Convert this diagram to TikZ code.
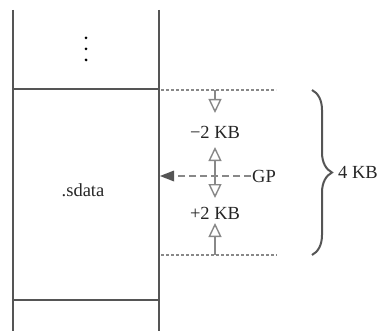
\documentclass[tikz,border=0pt]{standalone}
\usepackage{fontspec}
\setmainfont{Liberation Serif}
\usetikzlibrary{arrows.meta,decorations.pathreplacing}
\definecolor{ln}{HTML}{555555}
\definecolor{dl}{HTML}{888888}
\begin{document}
\begin{tikzpicture}[x=1pt,y=-1pt,
  wall/.style={draw=ln,line width=2.4pt},
  dotline/.style={draw=dl,line width=1.1pt,dash pattern=on 3pt off 2pt},
  gpline/.style={draw=dl,line width=1.6pt,dash pattern=on 7pt off 4pt},
  openarr/.style={draw=dl,line width=1.4pt,-{Triangle[open,length=14pt,width=13pt]}},
  lbl/.style={font=\fontsize{18.5}{20}\selectfont,inner sep=1pt,text=black!85}]
\useasboundingbox (0,0) rectangle (390,331);
% walls
\draw[wall] (13,10) -- (13,331);
\draw[wall] (159,10) -- (159,331);
\draw[wall] (13,89) -- (159,89);
\draw[wall] (13,300) -- (159,300);
% dots
\foreach \yy in {38,49,60} \fill (86,\yy) circle (1.5pt);
\node[lbl] (sd) at (83,190) {.sdata};
% dotted boundaries
\coordinate (t0) at (161,90);
\coordinate (t1) at (276,90);
\coordinate (b0) at (161,255);
\coordinate (b1) at (277,255);
\draw[dotline] (t0) -- (t1);
\draw[dotline] (b0) -- (b1);
% GP
\node[lbl,anchor=west] (gp) at (251,176) {GP};
\draw[gpline] (gp.west) -- (172,176);
\fill[ln] (160,176) -- (174,170.5) -- (174,181.5) -- cycle;
% labels
\node[lbl] (m2) at (215,132) {−2 KB};
\node[lbl] (p2) at (215,213) {+2 KB};
% vertical arrows
\coordinate (a1) at (215,90);
\coordinate (a1t) at (215,113);
\draw[openarr] (a1) -- (a1t);
\coordinate (a2) at (215,176);
\coordinate (a2t) at (215,147);
\draw[openarr] (a2) -- (a2t);
\coordinate (a3t) at (215,198);
\draw[openarr] (a2) -- (a3t);
\coordinate (a4) at (215,255);
\coordinate (a4t) at (215,223);
\draw[openarr] (a4) -- (a4t);
% brace
\coordinate (br0) at (312,90);
\coordinate (br1) at (312,255);
\draw[ln,line width=2pt,decorate,decoration={brace,amplitude=20pt}] (br0) -- (br1);
\node[lbl,anchor=west] (kb) at (337,172.5) {4 KB};
\end{tikzpicture}
\end{document}
